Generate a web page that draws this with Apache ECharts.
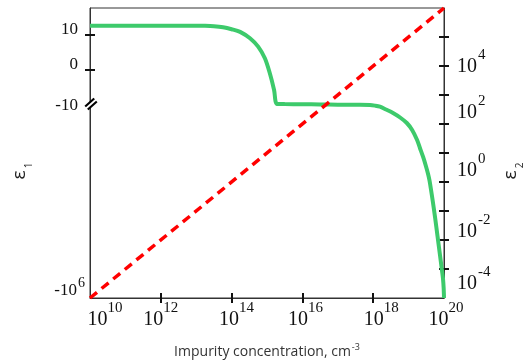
<!DOCTYPE html>
<html>
<head>
<meta charset="utf-8">
<script src="https://cdn.jsdelivr.net/npm/echarts@6/dist/echarts.min.js"></script>
<style>
  html, body { margin: 0; padding: 0; background: #fff; }
  #chart { width: 529px; height: 361px; }
</style>
</head>
<body>
<div id="chart"></div>
<script>
// Impurity concentration, as log10 of N (cm^-3)
const logN = [10, 11, 12, 13, 13.25, 13.5, 13.76, 14.0, 14.24, 14.52, 14.75, 14.94, 15.08, 15.2, 15.28,
              15.5, 16, 16.5, 17, 17.5, 17.91, 18.05, 18.19, 18.36, 18.56, 18.76, 18.95, 19.1, 19.24,
              19.32, 19.41, 19.48, 19.55, 19.59, 19.63, 19.69, 19.75, 19.82, 19.89, 19.93, 19.97, 19.99, 20];
// Real part of the permittivity, ε1
const eps1 = [12.66, 12.66, 12.66, 12.65, 12.62, 12.5, 12.2, 11.65, 10.9, 9.06, 6.66, 3.34, -0.94, -5.7, -9.7,
              -9.75, -9.8, -9.85, -9.9, -9.95, -10, -10.4, -11.1, -13.1, -16.1, -21.1, -29.3, -44.4, -80.7,
              -130, -222, -358, -613, -903, -1500, -3460, -8460, -26300, -81500, -157000, -303000, -550000, -1e6];
// Imaginary part of the permittivity, ε2 (straight line on log-log axes)
const logN2 = [10, 20];
const eps2 = [1e-5, 1e5];

// Tick and label positions
const xTickExp = [12, 14, 16, 18];
const xLabelExp = [10, 12, 14, 16, 18, 20];
const leftTicks = [10, 0];
const leftLabels = [10, 0, -10, -1e6];
const rightTickExp = [-4, -3, -2, -1, 0, 1, 2, 3, 4];
const rightLabelExp = [-4, -2, 0, 2, 4];

// ε1 axis: linear above the break, logarithmic in |ε1| below it
const BREAK = -10;
const UNITS_PER_DECADE = 11.03;
function toAxis(e) {
  return e >= BREAK ? e : BREAK - UNITS_PER_DECADE * Math.log10(e / BREAK);
}
function fromAxis(v) {
  return v >= BREAK ? v : BREAK * Math.pow(10, (BREAK - v) / UNITS_PER_DECADE);
}
const leftMin = toAxis(-1e6);
const leftMax = 17.71;

const SERIF = '"Liberation Serif", "Times New Roman", serif';
const SANS = '"Open Sans", "Noto Sans", sans-serif';
const INK = '#111';

// Label drift below the tick for the right labels, sideways drift of the bottom labels (px)
const rightLabelDrop = { '4': 30, '2': 17.5, '0': 17.5, '-2': 20.5, '-4': 14.5 };
const xLabelShift = { '10': 15, '12': 0, '14': 5, '16': 3, '18': 8, '20': 2 };

const rightRich = {};
Object.keys(rightLabelDrop).forEach(function (k) {
  const a = rightLabelDrop[k];
  const key = k.replace('-', 'm');
  rightRich['b' + key] = { fontFamily: SERIF, fontSize: 20, lineHeight: 20, color: INK, verticalAlign: 'top', padding: [a, 0, 0, 0] };
  rightRich['s' + key] = { fontFamily: SERIF, fontSize: 15, lineHeight: 15, color: INK, verticalAlign: 'top', padding: [a - 9, 0, 0, 1] };
});

const xRich = {};
Object.keys(xLabelShift).forEach(function (k) {
  xRich['b' + k] = { fontFamily: SERIF, fontSize: 20, lineHeight: 20, color: INK, verticalAlign: 'top', padding: [10, 0, 0, 2 * xLabelShift[k]] };
});
xRich.s = { fontFamily: SERIF, fontSize: 15, lineHeight: 15, color: INK, verticalAlign: 'top', padding: [1, 0, 0, 0] };

const pow10 = function (e) { return Math.pow(10, e); };
const greenData = logN.map(function (x, i) { return [pow10(x), toAxis(eps1[i])]; });
const redData = logN2.map(function (x, i) { return [pow10(x), eps2[i]]; });

const nameRich = {
  e: { fontFamily: SANS, fontSize: 19, lineHeight: 20, color: '#222', verticalAlign: 'top', padding: [0, 0, 0, 0] },
  s: { fontFamily: SANS, fontSize: 10, lineHeight: 10, color: '#222', verticalAlign: 'top', padding: [14, 36, 0, 2] }
};

const chart = echarts.init(document.getElementById('chart'));
chart.setOption({
  animation: false,
  backgroundColor: '#fff',
  grid: {
    left: 90, right: 85, top: 8, bottom: 63,
    containLabel: false, outerBoundsMode: 'none',
    show: true, borderColor: '#333', borderWidth: 1
  },
  xAxis: [
    {
      type: 'log', logBase: 10, min: 1e10, max: 1e20, interval: 2, position: 'bottom',
      axisLine: { show: true, onZero: false, lineStyle: { color: '#333', width: 1 } },
      axisTick: { show: false },
      splitLine: { show: false },
      axisLabel: {
        customValues: xLabelExp.map(pow10),
        margin: 2,
        hideOverlap: false,
        formatter: function (v) {
          const e = Math.round(Math.log10(v));
          return '{b' + e + '|10}{s|' + e + '}';
        },
        rich: xRich
      },
      name: '{n|Impurity concentration, cm}{u|-3}',
      nameLocation: 'middle',
      nameGap: 44,
      nameTextStyle: {
        rich: {
          n: { fontFamily: SANS, fontSize: 14, lineHeight: 18, color: '#333', verticalAlign: 'top', padding: [3, 0, 0, 0] },
          u: { fontFamily: SANS, fontSize: 9, lineHeight: 9, color: '#333', verticalAlign: 'top', padding: [1, 0, 0, 1] }
        }
      }
    },
    {
      type: 'log', logBase: 10, min: 1e10, max: 1e20, interval: 2, position: 'bottom', offset: -5,
      axisLine: { show: false, onZero: false },
      axisLabel: { show: false },
      splitLine: { show: false },
      axisTick: { show: true, customValues: xTickExp.map(pow10), length: 10, lineStyle: { color: INK, width: 2 } }
    }
  ],
  yAxis: [
    {
      type: 'value', min: leftMin, max: leftMax, position: 'left',
      axisLine: { show: true, onZero: false, lineStyle: { color: '#333', width: 1 } },
      axisTick: { show: false },
      splitLine: { show: false },
      axisLabel: {
        customValues: leftLabels.map(toAxis),
        margin: 5,
        hideOverlap: false,
        formatter: function (v) {
          const e = fromAxis(v);
          if (Math.abs(e) >= 1000) return '{lb|-10}{ls|' + Math.round(Math.log10(-e)) + '}';
          if (Math.round(e) === BREAK) return '{q|' + BREAK + '}';
          return '{p|' + Math.round(e) + '}';
        },
        rich: {
          p: { fontFamily: SERIF, fontSize: 17, lineHeight: 17, color: INK, padding: [0, 7, 10, 0] },
          q: { fontFamily: SERIF, fontSize: 17, lineHeight: 17, color: INK, verticalAlign: 'top', padding: [1, 7, 0, 0] },
          lb: { fontFamily: SERIF, fontSize: 17, lineHeight: 17, color: INK, verticalAlign: 'bottom', padding: [0, 0, 7, 0] },
          ls: { fontFamily: SERIF, fontSize: 14, lineHeight: 14, color: INK, verticalAlign: 'bottom', padding: [0, 0, 16, 1] }
        }
      },
      name: '{e|ε}{s|1}',
      nameLocation: 'middle',
      nameRotate: 90,
      nameGap: 60,
      nameTextStyle: { rich: nameRich }
    },
    {
      type: 'value', min: leftMin, max: leftMax, position: 'left', offset: -5,
      axisLine: { show: false, onZero: false },
      axisLabel: { show: false },
      splitLine: { show: false },
      axisTick: { show: true, customValues: leftTicks, length: 10, lineStyle: { color: INK, width: 2 } }
    },
    {
      type: 'log', logBase: 10, min: 1e-5, max: 1e5, interval: 1, position: 'right',
      axisLine: { show: true, onZero: false, lineStyle: { color: '#333', width: 1 } },
      axisTick: { show: false },
      splitLine: { show: false },
      axisLabel: {
        customValues: rightLabelExp.map(pow10),
        margin: 13,
        hideOverlap: false,
        formatter: function (v) {
          const e = Math.round(Math.log10(v));
          const key = String(e).replace('-', 'm');
          if (!rightRich['b' + key]) return '';
          return '{b' + key + '|10}{s' + key + '|' + e + '}';
        },
        rich: rightRich
      },
      name: '{e|ε}{s|2}',
      nameLocation: 'middle',
      nameRotate: 90,
      nameGap: 57,
      nameTextStyle: { rich: nameRich }
    },
    {
      type: 'log', logBase: 10, min: 1e-5, max: 1e5, interval: 1, position: 'right', offset: -5,
      axisLine: { show: false, onZero: false },
      axisLabel: { show: false },
      splitLine: { show: false },
      axisTick: { show: true, customValues: rightTickExp.map(pow10), length: 10, lineStyle: { color: INK, width: 2 } }
    }
  ],
  series: [
    {
      name: 'ε1', type: 'line', xAxisIndex: 0, yAxisIndex: 0,
      data: greenData, showSymbol: false, smooth: 0.3, clip: false,
      lineStyle: { color: '#3dca6b', width: 4 }
    },
    {
      name: 'ε2', type: 'line', xAxisIndex: 0, yAxisIndex: 2,
      data: redData, showSymbol: false, clip: false,
      lineStyle: { color: '#ff0000', width: 3.5, type: [9, 6], cap: 'butt' }
    }
  ],
  // Break marks on the ε1 axis
  graphic: [
    { type: 'line', z: 100, shape: { x1: 86.5, y1: 108, x2: 95.5, y2: 100 }, style: { stroke: '#fff', lineWidth: 3 } },
    { type: 'line', z: 101, shape: { x1: 85.2, y1: 106.5, x2: 94.2, y2: 98.5 }, style: { stroke: '#000', lineWidth: 2.2 } },
    { type: 'line', z: 101, shape: { x1: 87.8, y1: 109.5, x2: 96.8, y2: 101.5 }, style: { stroke: '#000', lineWidth: 2.2 } }
  ]
});
</script>
</body>
</html>
